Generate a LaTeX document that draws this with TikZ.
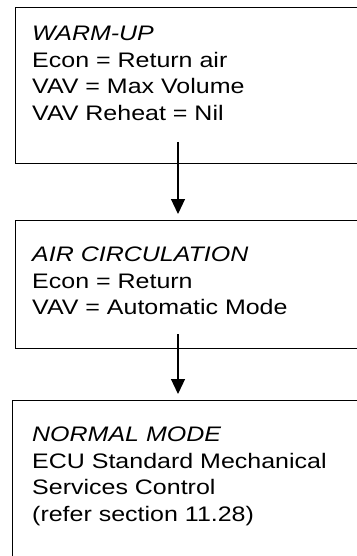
\documentclass[tikz,border=0pt]{standalone}
\usepackage{fontspec}
\setmainfont{Liberation Sans}[FakeStretch=1.19]
\usetikzlibrary{positioning,arrows.meta}

\tikzset{
	stage/.style={draw,line width=1.2pt,anchor=north west,minimum width=400pt,inner sep=0pt},
	stagetext/.style={align=left,inner sep=0pt,anchor=north west,font=\fontsize{21}{26.5}\selectfont},
	flow/.style={line width=1.2pt,-{Triangle[width=14pt,length=15pt]},shorten >=6pt}
}

\begin{document}
\begin{tikzpicture}[x=1pt,y=1pt]
		\useasboundingbox (0,0) rectangle (356,-556);
		\begin{scope}
			% the three stages
			\node(warmup) [stage,minimum height=156pt] at (15,-7) {};
			\node(aircirc) [stage,minimum height=128pt] at (15,-220) {};
			\node(normal) [stage,minimum height=200pt] at (12,-400) {};
			\node(warmuptext) [stagetext,below right=19pt and 17pt of warmup.north west]
				{\textit{WARM-UP}\\Econ = Return air\\VAV = Max Volume\\VAV Reheat = Nil};
			\node(aircirctext) [stagetext,below right=27pt and 17pt of aircirc.north west]
				{\textit{AIR CIRCULATION}\\Econ = Return\\VAV = Automatic Mode};
			\node(normaltext) [stagetext,below right=27pt and 20pt of normal.north west]
				{\textit{NORMAL MODE}\\ECU Standard Mechanical\\Services Control\\(refer section 11.28)};
			\coordinate(from1) at (178,-142);
			\coordinate(from2) at (178,-334);
			\path
				(from1) edge[flow] (from1 |- aircirc.north)
				(from2) edge[flow] (from2 |- normal.north);
		\end{scope}
	\end{tikzpicture}
\end{document}
